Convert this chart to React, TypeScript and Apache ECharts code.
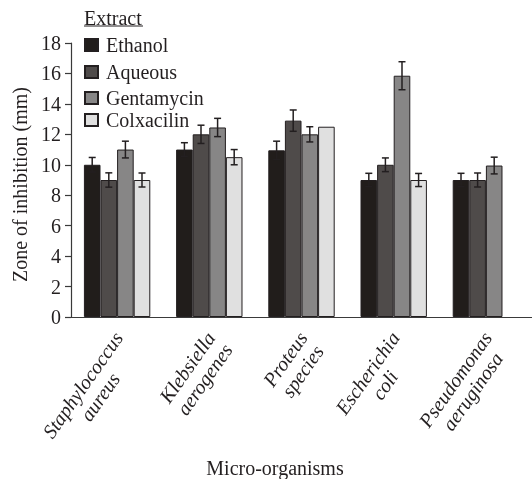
import React, { useEffect, useRef } from "react";
import * as echarts from "echarts";

const categories = [
  "Staphylococcus aureus",
  "Klebsiella aerogenes",
  "Proteus species",
  "Escherichia coli",
  "Pseudomonas aeruginosa",
];
const seriesNames = ["Ethanol", "Aqueous", "Gentamycin", "Colxacilin"];
const ethanol = [10, 11, 10.95, 9, 9];
const aqueous = [9, 12, 12.9, 10, 9];
const gentamycin = [11, 12.45, 12, 15.85, 9.95];
const colxacilin = [9, 10.5, 12.5, 9, null];
const ethanolErr = [0.48, 0.45, 0.6, 0.44, 0.44];
const aqueousErr = [0.47, 0.6, 0.7, 0.45, 0.46];
const gentamycinErr = [0.55, 0.6, 0.5, 0.92, 0.55];
const colxacilinErr = [0.46, 0.5, 0, 0.43, 0];
const yTicks = { min: 0, max: 18, interval: 2 };

const colors = ["#211d1b", "#4f4b4a", "#878686", "#e0e0e0"];
const ink = "#231f20";
const FONT = "'Liberation Serif', 'DejaVu Serif', serif";
const CAT_GAP = 0.28;

export default function App() {
  const ref = useRef<HTMLDivElement>(null);
  useEffect(() => {
    if (!ref.current) return;
    const chart = echarts.init(ref.current, null, { renderer: "svg" });
    const values = [ethanol, aqueous, gentamycin, colxacilin];
    const errs = [ethanolErr, aqueousErr, gentamycinErr, colxacilinErr];
    const legendTops = [35, 62, 88, 110];

    const barSeries = seriesNames.map((name, i) => ({
      type: "bar",
      name,
      data: values[i],
      barGap: "0%",
      barCategoryGap: CAT_GAP * 100 + "%",
      itemStyle: { color: colors[i], borderColor: ink, borderWidth: 1 },
      z: 2,
    }));

    const errSeries = seriesNames.map((name, i) => ({
      type: "custom",
      name: "err-" + name,
      z: 5,
      data: values[i]
        .map((v, j) => [j, v, errs[i][j]])
        .filter((d) => d[1] != null && (d[2] as number) > 0),
      renderItem: (params: any, api: any) => {
        const x = api.value(0);
        const v = api.value(1);
        const e = api.value(2);
        const catW = api.size([1, 0])[0];
        const barW = (catW * (1 - CAT_GAP)) / 4;
        const c = api.coord([x, v]);
        const cx = c[0] + (i - 1.5) * barW;
        const top = api.coord([x, v + e])[1];
        const bot = api.coord([x, v - e])[1];
        const cap = 3.5;
        const st = { stroke: ink, lineWidth: 1.5 };
        return {
          type: "group",
          children: [
            { type: "line", shape: { x1: cx, y1: top, x2: cx, y2: bot }, style: st },
            { type: "line", shape: { x1: cx - cap, y1: top, x2: cx + cap, y2: top }, style: st },
            { type: "line", shape: { x1: cx - cap, y1: bot, x2: cx + cap, y2: bot }, style: st },
          ],
        };
      },
    }));

    chart.setOption({
      animation: false,
      grid: { left: 71, top: 43, bottom: 162, right: -4 },
      legend: seriesNames.map((n, i) => ({
        data: [n],
        left: 84,
        top: legendTops[i],
        padding: 0,
        icon: "rect",
        itemWidth: 13,
        itemHeight: 12,
        selectedMode: false,
        textStyle: {
          fontFamily: FONT,
          fontSize: 20,
          color: ink,
          lineHeight: 20,
          padding: [0, 0, 0, 3],
        },
      })),
      xAxis: {
        type: "category",
        data: categories,
        axisLine: { lineStyle: { color: "#3a3a3a", width: 1.2 } },
        axisTick: { length: 6, lineStyle: { color: "#3a3a3a", width: 1.2 } },
        axisLabel: {
          rotate: 55,
          margin: 16,
          interval: 0,
          padding: [24, 0, 0, 0],
          formatter: (s: string) => {
            const k = s.indexOf(" ");
            return "{a|" + s.slice(0, k) + "}\n{a|" + s.slice(k + 1) + "}";
          },
          rich: {
            a: {
              fontFamily: FONT,
              fontStyle: "italic",
              fontSize: 20,
              lineHeight: 21,
              color: ink,
              align: "center",
            },
          },
        },
      },
      yAxis: {
        type: "value",
        min: yTicks.min,
        max: yTicks.max,
        interval: yTicks.interval,
        name: "Zone of inhibition (mm)",
        nameLocation: "middle",
        nameGap: 39,
        nameTextStyle: { fontFamily: FONT, fontSize: 20, color: ink, padding: [0, 9, 0, 0] },
        splitLine: { show: false },
        axisLine: { show: true, lineStyle: { color: "#3a3a3a", width: 1.2 } },
        axisTick: { show: true, length: 6, lineStyle: { color: "#3a3a3a", width: 1.2 } },
        axisLabel: { fontFamily: FONT, fontSize: 20, color: ink, margin: 10 },
      },
      graphic: [
        {
          type: "text",
          left: 84,
          top: 8,
          style: { text: "Extract", fontFamily: FONT, fontSize: 20, fill: ink },
        },
        {
          type: "line",
          shape: { x1: 84, y1: 26, x2: 143, y2: 26 },
          style: { stroke: ink, lineWidth: 1 },
        },
        {
          type: "text",
          x: 275,
          y: 468,
          style: {
            text: "Micro-organisms",
            fontFamily: FONT,
            fontSize: 20,
            fill: ink,
            align: "center",
            verticalAlign: "middle",
          },
        },
      ],
      series: [...barSeries, ...errSeries],
    });
    return () => chart.dispose();
  }, []);
  return (
    <div
      ref={ref}
      style={{ position: "fixed", left: 0, top: 0, width: 532, height: 479 }}
    />
  );
}
